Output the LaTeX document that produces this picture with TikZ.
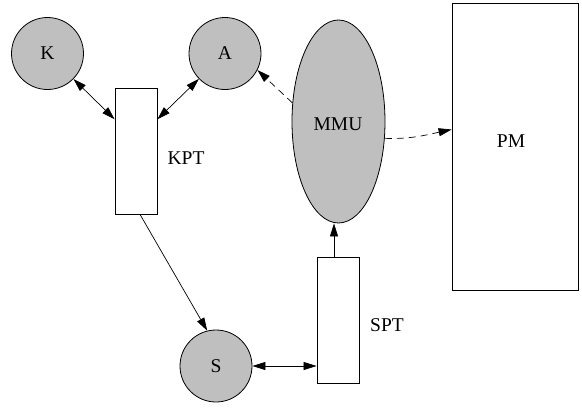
\documentclass[tikz,border=0pt]{standalone}
\usepackage{fontspec}
\setmainfont{Liberation Serif}
\usetikzlibrary{arrows.meta,shapes.geometric}
\definecolor{figgray}{RGB}{191,191,191}
\tikzset{
  every node/.style={font=\fontsize{19.5}{23}\selectfont},
  dot/.style={circle,draw,fill=figgray,minimum size=72pt,inner sep=0pt,line width=0.8pt},
  tbl/.style={rectangle,draw,minimum width=42pt,minimum height=126pt,inner sep=0pt,line width=0.8pt},
  conn/.style={line width=0.7pt,>={Triangle[length=13pt,width=8pt]}},
  dconn/.style={conn,dash pattern=on 7pt off 5pt},
  lbl/.style={inner sep=0pt}
}
\begin{document}
\begin{tikzpicture}[x=1pt,y=1pt]
\useasboundingbox (0,0) rectangle (582,-408);
\node[dot] (K) at (47.5,-53.5) {K};
\node[dot] (A) at (225,-53.5) {A};
\node[dot] (S) at (216,-366) {S};
\node[tbl] (KPT) at (136,-151) {};
\node[tbl] (SPT) at (338,-320) {};
\node[ellipse,draw,fill=figgray,minimum width=93pt,minimum height=203pt,inner sep=0pt,line width=0.8pt] (MMU) at (338.5,-121.5) {};
\node[rectangle,draw,minimum width=126pt,minimum height=287pt,inner sep=0pt,line width=0.8pt] (PM) at (515,-146.5) {};
\node[lbl] (kptl) at (186,-158) {KPT};
\node[lbl] (sptl) at (387,-325) {SPT};
\node[lbl] (mmul) at (338,-124) {MMU};
\node[lbl] (pml) at (511,-141) {PM};
\draw[conn,<->] (K) -- (KPT.124);
\draw[conn,<->] (A) -- (KPT.56);
\draw[dconn,->] (MMU.158) -- (A.-27);
\draw[dconn,->] (MMU.-20) to[out=-2,in=192] (PM.165);
\draw[conn,->] ([xshift=4pt]KPT.south) -- (S.104);
\draw[conn,<->] (S.east) -- (SPT.west |- S.east);
\draw[conn,->] ([xshift=-4pt]SPT.north) -- ([xshift=-4pt]SPT.north |- MMU.south);
\end{tikzpicture}
\end{document}
